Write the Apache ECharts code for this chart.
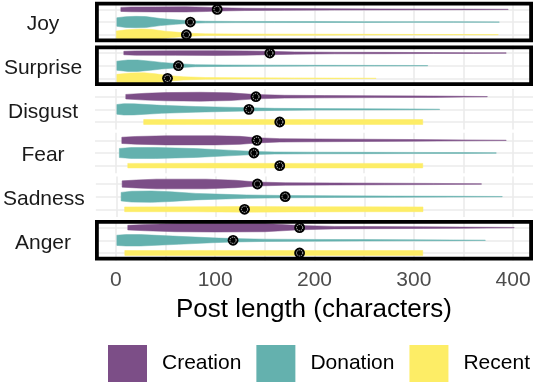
<!DOCTYPE html>
<html><head><meta charset="utf-8">
<script src="https://cdn.jsdelivr.net/npm/echarts@6/dist/echarts.min.js"></script>
<style>html,body{margin:0;padding:0;background:#fff}#c{width:534px;height:384px}</style>
</head><body><div id="c"></div>
<script>
const emotions = ['Joy','Surprise','Disgust','Fear','Sadness','Anger'];
const groups = ['Creation','Donation','Recent'];
const highlighted = ['Joy','Surprise','Anger'];
const xTicks = [0,100,200,300,400];
const xGrid = [0,50,100,150,200,250,300,350,400];
const creationMarks = [102,155,141,142,142,185];
const donationMarks = [75,63,134,139,170,118];
const recentMarks = [71,52,165,165,129,185];

// violin profiles: [post length, relative half-width of density]
const joyCreation = [[5,0.35],[15,0.42],[40,0.44],[70,0.45],[90,0.38],[105,0.28],[130,0.2],[170,0.16],[220,0.12],[270,0.09],[320,0.07],[360,0.05],[395,0.03]];
const joyDonation = [[1,0.75],[10,0.95],[20,1.0],[30,0.97],[45,0.62],[60,0.4],[75,0.22],[90,0.14],[120,0.1],[160,0.09],[200,0.08],[250,0.06],[300,0.05],[340,0.05],[386,0.03]];
const joyRecent = [[0.5,0.65],[10,0.85],[25,1.0],[35,0.95],[50,0.62],[63,0.42],[75,0.25],[90,0.15],[120,0.12],[160,0.1],[200,0.09],[250,0.07],[300,0.04],[340,0.03],[385,0.02]];
const surpriseCreation = [[8,0.3],[20,0.38],[60,0.4],[100,0.42],[130,0.38],[155,0.3],[180,0.2],[220,0.14],[270,0.12],[320,0.08],[360,0.06],[393,0.03]];
const surpriseDonation = [[1,0.8],[12,1.0],[22,1.0],[35,0.8],[46,0.58],[63,0.35],[80,0.18],[110,0.12],[150,0.1],[200,0.07],[260,0.05],[314,0.03]];
const surpriseRecent = [[1,0.7],[15,0.95],[28,1.0],[40,0.8],[52,0.5],[68,0.28],[90,0.15],[130,0.1],[180,0.08],[220,0.05],[262,0.03]];
const disgustCreation = [[10,0.4],[30,0.6],[50,0.72],[85,0.78],[115,0.68],[141,0.38],[170,0.25],[210,0.2],[260,0.16],[320,0.12],[350,0.07],[374,0.03]];
const disgustDonation = [[1,0.85],[8,1.0],[18,0.98],[46,0.7],[80,0.5],[110,0.38],[134,0.28],[160,0.18],[200,0.13],[250,0.1],[300,0.07],[326,0.03]];
const disgustRecent = [[28,0.43],[100,0.44],[200,0.43],[309,0.43]];
const fearCreation = [[6,0.55],[20,0.68],[50,0.8],[100,0.8],[125,0.7],[142,0.45],[165,0.3],[200,0.25],[250,0.2],[300,0.14],[350,0.08],[393,0.03]];
const fearDonation = [[3.5,0.8],[15,0.95],[40,0.97],[80,0.78],[113,0.5],[139,0.28],[160,0.18],[200,0.14],[250,0.12],[300,0.1],[350,0.07],[383,0.03]];
const fearRecent = [[12,0.4],[100,0.41],[200,0.4],[309,0.4]];
const sadnessCreation = [[5.5,0.55],[20,0.7],[40,0.85],[90,0.85],[120,0.65],[141,0.35],[170,0.22],[220,0.18],[270,0.14],[320,0.1],[368,0.03]];
const sadnessDonation = [[4.5,0.75],[15,0.95],[35,1.0],[55,0.85],[80,0.57],[110,0.4],[131,0.3],[170,0.2],[220,0.14],[280,0.1],[340,0.07],[389,0.03]];
const sadnessRecent = [[8,0.42],[80,0.44],[130,0.5],[180,0.46],[250,0.43],[309,0.42]];
const angerCreation = [[12,0.4],[30,0.55],[60,0.72],[100,0.77],[150,0.72],[185,0.38],[220,0.22],[260,0.18],[310,0.14],[350,0.1],[401,0.04]];
const angerDonation = [[1,0.9],[10,1.0],[25,1.0],[63,0.7],[97,0.43],[118,0.3],[150,0.2],[200,0.15],[250,0.12],[300,0.09],[340,0.06],[372,0.03]];
const angerRecent = [[9,0.43],[100,0.44],[200,0.43],[309,0.43]];

const profiles = [
  [joyCreation, joyDonation, joyRecent],
  [surpriseCreation, surpriseDonation, surpriseRecent],
  [disgustCreation, disgustDonation, disgustRecent],
  [fearCreation, fearDonation, fearRecent],
  [sadnessCreation, sadnessDonation, sadnessRecent],
  [angerCreation, angerDonation, angerRecent]
];
const marks = [creationMarks, donationMarks, recentMarks];
const colors = ['#7c4e87', '#64b1ae', '#fded66'];
const FONT = 'Liberation Sans, Arial, Helvetica, sans-serif';

function violinRender(profile, color) {
  return function (params, api) {
    const row = api.value(1);
    const top = [], bot = [];
    profile.forEach(function (p) {
      top.push(api.coord([p[0], row + p[1] * 0.45]));
      bot.push(api.coord([p[0], row - p[1] * 0.45]));
    });
    const pts = top.concat(bot.reverse());
    const m = api.coord([api.value(0), row]);
    return {
      type: 'group',
      children: [
        { type: 'polygon', shape: { points: pts }, style: { fill: color, stroke: color, lineWidth: 0.5 } },
        { type: 'circle', shape: { cx: m[0], cy: m[1], r: 5.4 }, style: { fill: '#000' } },
        { type: 'circle', shape: { cx: m[0], cy: m[1], r: 3.1 }, style: { fill: null, stroke: '#fff', lineWidth: 0.8, lineDash: [1.3, 0.9] } }
      ]
    };
  };
}

const grids = [], xAxes = [], yAxes = [], series = [];
emotions.forEach(function (emo, p) {
  grids.push({ left: 95, width: 438, top: 1.8 + 43.65 * p, height: 40.5 });
  const last = p === emotions.length - 1;
  xAxes.push({
    type: 'value', gridIndex: p, min: -21, max: 420,
    axisLine: { show: false },
    axisTick: { show: false, customValues: xGrid },
    axisLabel: { show: last, customValues: xTicks, fontSize: 21, color: '#4d4d4d', margin: 9, fontFamily: FONT },
    splitLine: { show: true, lineStyle: { color: '#ebebeb', width: 1.6 } },
    name: last ? 'Post length (characters)' : '',
    nameLocation: 'middle', nameGap: 36,
    nameTextStyle: { fontSize: 26, color: '#000', fontFamily: FONT }
  });
  yAxes.push({
    type: 'value', gridIndex: p, min: 0.4, max: 3.6,
    axisLine: { show: false },
    axisTick: { show: false, customValues: [1, 2, 3] },
    axisLabel: {
      customValues: [2], formatter: function () { return '{s|' + emo + '}'; },
      align: 'center', margin: 52,
      rich: { s: { fontSize: 21, color: '#1a1a1a', fontFamily: FONT, padding: [5, 0, 0, 0] } }
    },
    splitLine: { show: true, lineStyle: { color: '#ebebeb', width: 1.6 } }
  });
  groups.forEach(function (g, gi) {
    series.push({
      type: 'custom', name: g, xAxisIndex: p, yAxisIndex: p,
      itemStyle: { color: colors[gi] },
      data: [[marks[gi][p], 3 - gi]],
      renderItem: violinRender(profiles[p][gi], colors[gi]),
      silent: true, z: 2
    });
  });
  if (highlighted.indexOf(emo) >= 0) {
    series.push({
      type: 'custom', name: 'frame', xAxisIndex: p, yAxisIndex: p,
      data: [[0, 2]], silent: true, z: 5,
      renderItem: function (params, api) {
        const cs = params.coordSys; const lw = 3.8;
        return { type: 'rect', shape: { x: cs.x + lw / 2, y: cs.y + lw / 2, width: cs.width - lw, height: cs.height - lw }, style: { fill: null, stroke: '#000', lineWidth: lw } };
      }
    });
  }
});

const chart = echarts.init(document.getElementById('c'), null, { renderer: 'canvas' });
chart.setOption({
  animation: false,
  backgroundColor: '#fff',
  grid: grids, xAxis: xAxes, yAxis: yAxes, series: series,
  legend: {
    data: groups, left: 108, top: 345, width: 430, padding: 0,
    itemWidth: 39, itemHeight: 37, itemGap: 15, icon: 'rect',
    textStyle: { fontSize: 21, color: '#000', fontFamily: FONT, padding: [0, 0, 0, 10] }
  }
});
</script></body></html>
